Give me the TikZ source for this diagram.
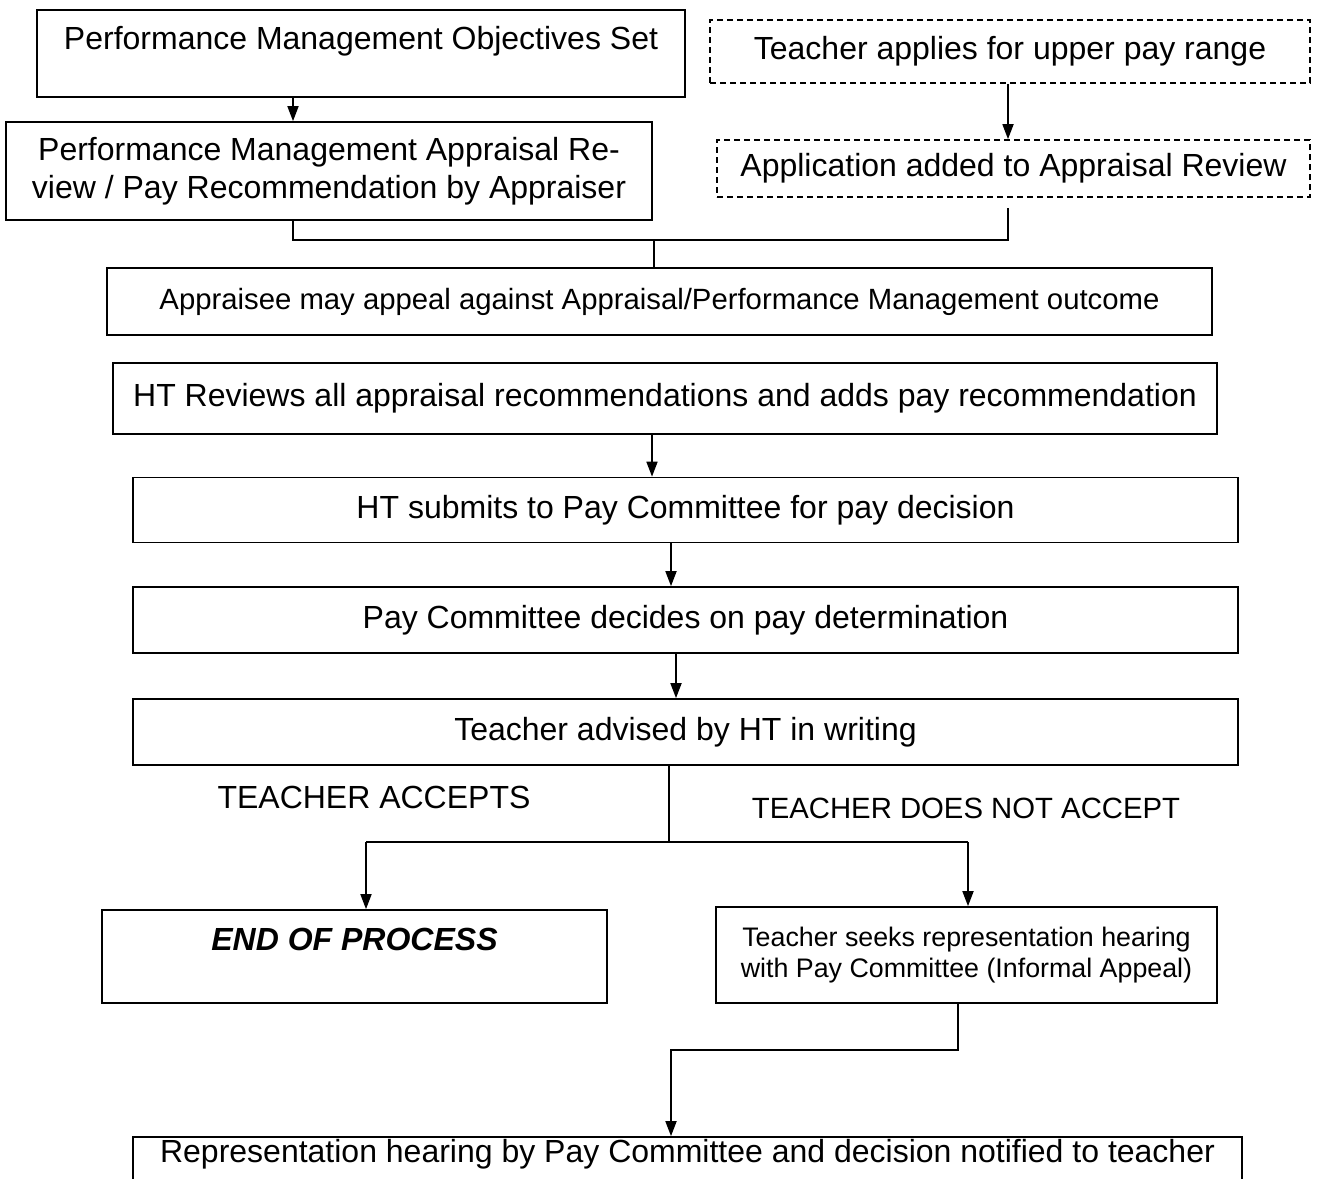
\documentclass[tikz,border=0pt]{standalone}
\usepackage{fontspec}
\setmainfont{Liberation Sans}
\usetikzlibrary{arrows.meta,calc}
\begin{document}
\begin{tikzpicture}[x=1pt,y=-1pt,
  box/.style={draw,line width=1.7pt,inner sep=0pt,align=center,font=\fontsize{32}{38}\selectfont},
  dbox/.style={box,dash pattern=on 6pt off 4pt},
  link/.style={line width=1.7pt},
  arr/.style={link,-{Triangle[length=15pt,width=11pt]}},
  note/.style={font=\fontsize{32}{38}\selectfont}]
\path[use as bounding box,clip] (0,0) rectangle (1330,1178);
\fill[white] (0,0) rectangle (1330,1178);

% top part
\node[box,minimum width=648,minimum height=87] (objset) at (361,53.5) {Performance Management Objectives Set\\[-6pt]\mbox{}};
\node[box,minimum width=646,minimum height=98] (apprev) at (329,171) {Performance Management Appraisal Re-\\view / Pay Recommendation by Appraiser};
\node[dbox,minimum width=600,minimum height=63] (applies) at (1010,51.5) {Teacher applies for upper pay range};
\node[dbox,minimum width=593,minimum height=57] (added) at (1013.5,168.5) {Application added to Appraisal Review};
\node[box,minimum width=1105,minimum height=67,font=\fontsize{29.3}{35}\selectfont] (appeal) at (659.5,301.5) {Appraisee may appeal against Appraisal/Performance Management outcome};

% main column
\node[box,minimum width=1104,minimum height=71] (htrev) at (665,398.5) {HT Reviews all appraisal recommendations and adds pay recommendation};
\node[box,minimum width=1105,minimum height=65] (submit) at (685.5,510) {HT submits to Pay Committee for pay decision};
\node[box,minimum width=1105,minimum height=66] (decide) at (685.5,620) {Pay Committee decides on pay determination};
\node[box,minimum width=1105,minimum height=66] (advised) at (685.5,732) {Teacher advised by HT in writing};

\node[note] (accepts) at (374,797) {TEACHER ACCEPTS};
\node[note,font=\fontsize{29.3}{35}\selectfont] (notaccept) at (966,808) {TEACHER DOES NOT ACCEPT};

\node[box,minimum width=505,minimum height=93] (endproc) at (354.5,956.5) {\bfseries\itshape END OF PROCESS\\[-4pt]\mbox{}};
\node[box,minimum width=501,minimum height=96,font=\fontsize{26.8}{31}\selectfont] (seeks) at (966.5,955) {Teacher seeks representation hearing\\with Pay Committee (Informal Appeal)};
\node[box,minimum width=1109,minimum height=66] (hearing) at (687.5,1170) {Representation hearing by Pay Committee and decision notified to teacher\\\mbox{}};

% connectors
\coordinate (j1) at (293,240);
\coordinate (j2) at (1008,240);
\coordinate (j3) at (654,240);
\coordinate (x1) at (652,0);
\coordinate (x2) at (671,0);
\coordinate (x3) at (676,0);
\coordinate (split) at (669,842);
\coordinate (left) at (366,842);
\coordinate (right) at (968,842);
\coordinate (jog) at (958,1050);
\coordinate (jog2) at (671,1050);

\draw[arr] (objset.south -| j1) -- (apprev.north -| j1);
\draw[arr] (applies.south -| j2) -- (added.north -| j2);
\draw[link] (apprev.south -| j1) -- (j1) -- (j2) -- ($(added.south -| j2)+(0,10)$);
\draw[link] (j3) -- (appeal.north -| j3);
\draw[arr] (htrev.south -| x1) -- (submit.north -| x1);
\draw[arr] (submit.south -| x2) -- (decide.north -| x2);
\draw[arr] (decide.south -| x3) -- (advised.north -| x3);
\draw[link] (advised.south -| split) -- (split);
\draw[link,line width=2.5pt] (left) -- (right);
\draw[arr] (left) -- (endproc.north -| left);
\draw[arr] (right) -- (seeks.north -| right);
\draw[arr] (seeks.south -| jog) -- (jog) -- (jog2) -- (hearing.north -| jog2);
\end{tikzpicture}
\end{document}
